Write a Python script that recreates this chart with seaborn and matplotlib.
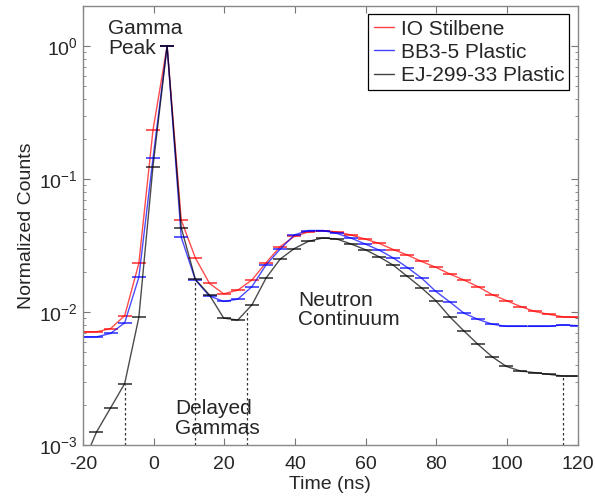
import numpy as np
import pandas as pd
import matplotlib
matplotlib.use("Agg")
import matplotlib.pyplot as plt
import seaborn as sns
from matplotlib.lines import Line2D

time_ns = [-20.2, -16.2, -12.2, -8.2, -4.2, -0.2, 3.8, 7.8, 11.8, 15.8, 19.8, 23.8,
           27.8, 31.8, 35.8, 39.8, 43.8, 47.8, 51.8, 55.8, 59.8, 63.8, 67.8, 71.8,
           75.8, 79.8, 83.8, 87.8, 91.8, 95.8, 99.8, 103.8, 107.8, 111.8, 115.8, 119.8]

io_stilbene = [7.1e-3, 7.1e-3, 7.5e-3, 9.4e-3, 0.0232, 0.233, 1.0, 0.049, 0.0255, 0.0164,
               0.0137, 0.0146, 0.0174, 0.0235, 0.031, 0.037, 0.040, 0.041, 0.040, 0.038,
               0.0354, 0.0328, 0.0295, 0.0268, 0.024, 0.0217, 0.0193, 0.0174, 0.0155,
               0.0135, 0.0122, 0.011, 0.0101, 0.0096, 0.0092, 0.0091]

bb3_5 = [6.5e-3, 6.5e-3, 6.9e-3, 8.3e-3, 0.0182, 0.143, 1.0, 0.0365, 0.0174, 0.0132,
         0.0120, 0.0125, 0.0155, 0.0226, 0.0297, 0.038, 0.041, 0.041, 0.039, 0.036,
         0.0325, 0.0292, 0.0255, 0.0216, 0.0180, 0.0143, 0.0119, 0.0098, 0.0088,
         0.0081, 0.0078, 0.0078, 0.0078, 0.0078, 0.0080, 0.0079]

ej_299_33 = [7e-4, 1.25e-3, 1.9e-3, 2.9e-3, 9.1e-3, 0.124, 1.0, 0.043, 0.0176, 0.0134,
             0.0090, 0.0087, 0.0113, 0.018, 0.025, 0.030, 0.034, 0.036, 0.0354, 0.0325,
             0.0295, 0.026, 0.0225, 0.0185, 0.0152, 0.0122, 0.0092, 0.0072, 0.0057,
             0.0046, 0.0039, 0.0036, 0.0035, 0.0034, 0.0033, 0.0033]

series_names = ["IO Stilbene", "BB3-5 Plastic", "EJ-299-33 Plastic"]
series_colors = ["#ff0000", "#0000ff", "#000000"]
cut_times = [-8.2, 11.8, 26.3, 115.8]

df = pd.concat([
    pd.DataFrame({"Time": time_ns, "Counts": vals, "Detector": name})
    for name, vals in zip(series_names, [io_stilbene, bb3_5, ej_299_33])
])

sns.set_style("ticks")
plt.rcParams["font.family"] = ["Liberation Sans", "DejaVu Sans"]
plt.rcParams["mathtext.fontset"] = "custom"
plt.rcParams["mathtext.rm"] = "Liberation Sans"
plt.rcParams["axes.unicode_minus"] = False

fig = plt.figure(figsize=(5.95, 4.97), dpi=100)
ax = fig.add_axes([0.1395, 0.1046, 0.8315, 0.8834])

palette = dict(zip(series_names, series_colors))
sns.lineplot(data=df, x="Time", y="Counts", hue="Detector", palette=palette,
             hue_order=series_names, ax=ax, linewidth=1.0,
             marker="_", markersize=10, markeredgewidth=1.3, legend=False)

for ln in ax.lines:
    c = ln.get_color()
    ln.set_markeredgecolor(c)
    ln.set_markerfacecolor(c)
    ln.set_alpha(0.7)

ax.set_yscale("log")
ax.set_xlim(-20, 120)
ax.set_ylim(1e-3, 2.0)

# dashed drop lines from the EJ-299-33 curve
for t in cut_times:
    h = 10 ** np.interp(t, time_ns, np.log10(ej_299_33))
    ax.plot([t, t], [1e-3, h], ls=(0, (2, 2)), color="#333333", lw=0.9)

ax.set_xticks([-20, 0, 20, 40, 60, 80, 100, 120])
ax.tick_params(axis="both", which="both", direction="in", top=True, right=True,
               labelsize=14, color="#777777")
ax.tick_params(which="major", length=5)
ax.tick_params(which="minor", length=2.5)
ax.tick_params(axis="x", pad=8)
for s in ax.spines.values():
    s.set_color("#888888")
    s.set_linewidth(1.0)

ax.set_xlabel("Time (ns)", fontsize=14, labelpad=2)
ax.set_ylabel("Normalized Counts", fontsize=14, labelpad=3)

ax.text(-12.9, 1.6, "Gamma\nPeak", fontsize=15, va="top", ha="left", linespacing=1.05)
ax.text(40.8, 0.0145, "Neutron\nContinuum", fontsize=15, va="top", ha="left", linespacing=1.05)
ax.text(6.0, 2.2e-3, "Delayed\nGammas", fontsize=15, va="top", ha="left", linespacing=1.05)

handles = [Line2D([0], [0], color=c, lw=1.0, alpha=0.75) for c in series_colors]
leg = ax.legend(handles, series_names, loc="upper right", fontsize=15,
                frameon=True, fancybox=False, edgecolor="black", framealpha=1,
                handlelength=1.0, handletextpad=0.3, borderpad=0.25,
                labelspacing=0.2, borderaxespad=0.4)
leg.get_frame().set_linewidth(0.9)

fig.savefig("out.png", dpi=100)
